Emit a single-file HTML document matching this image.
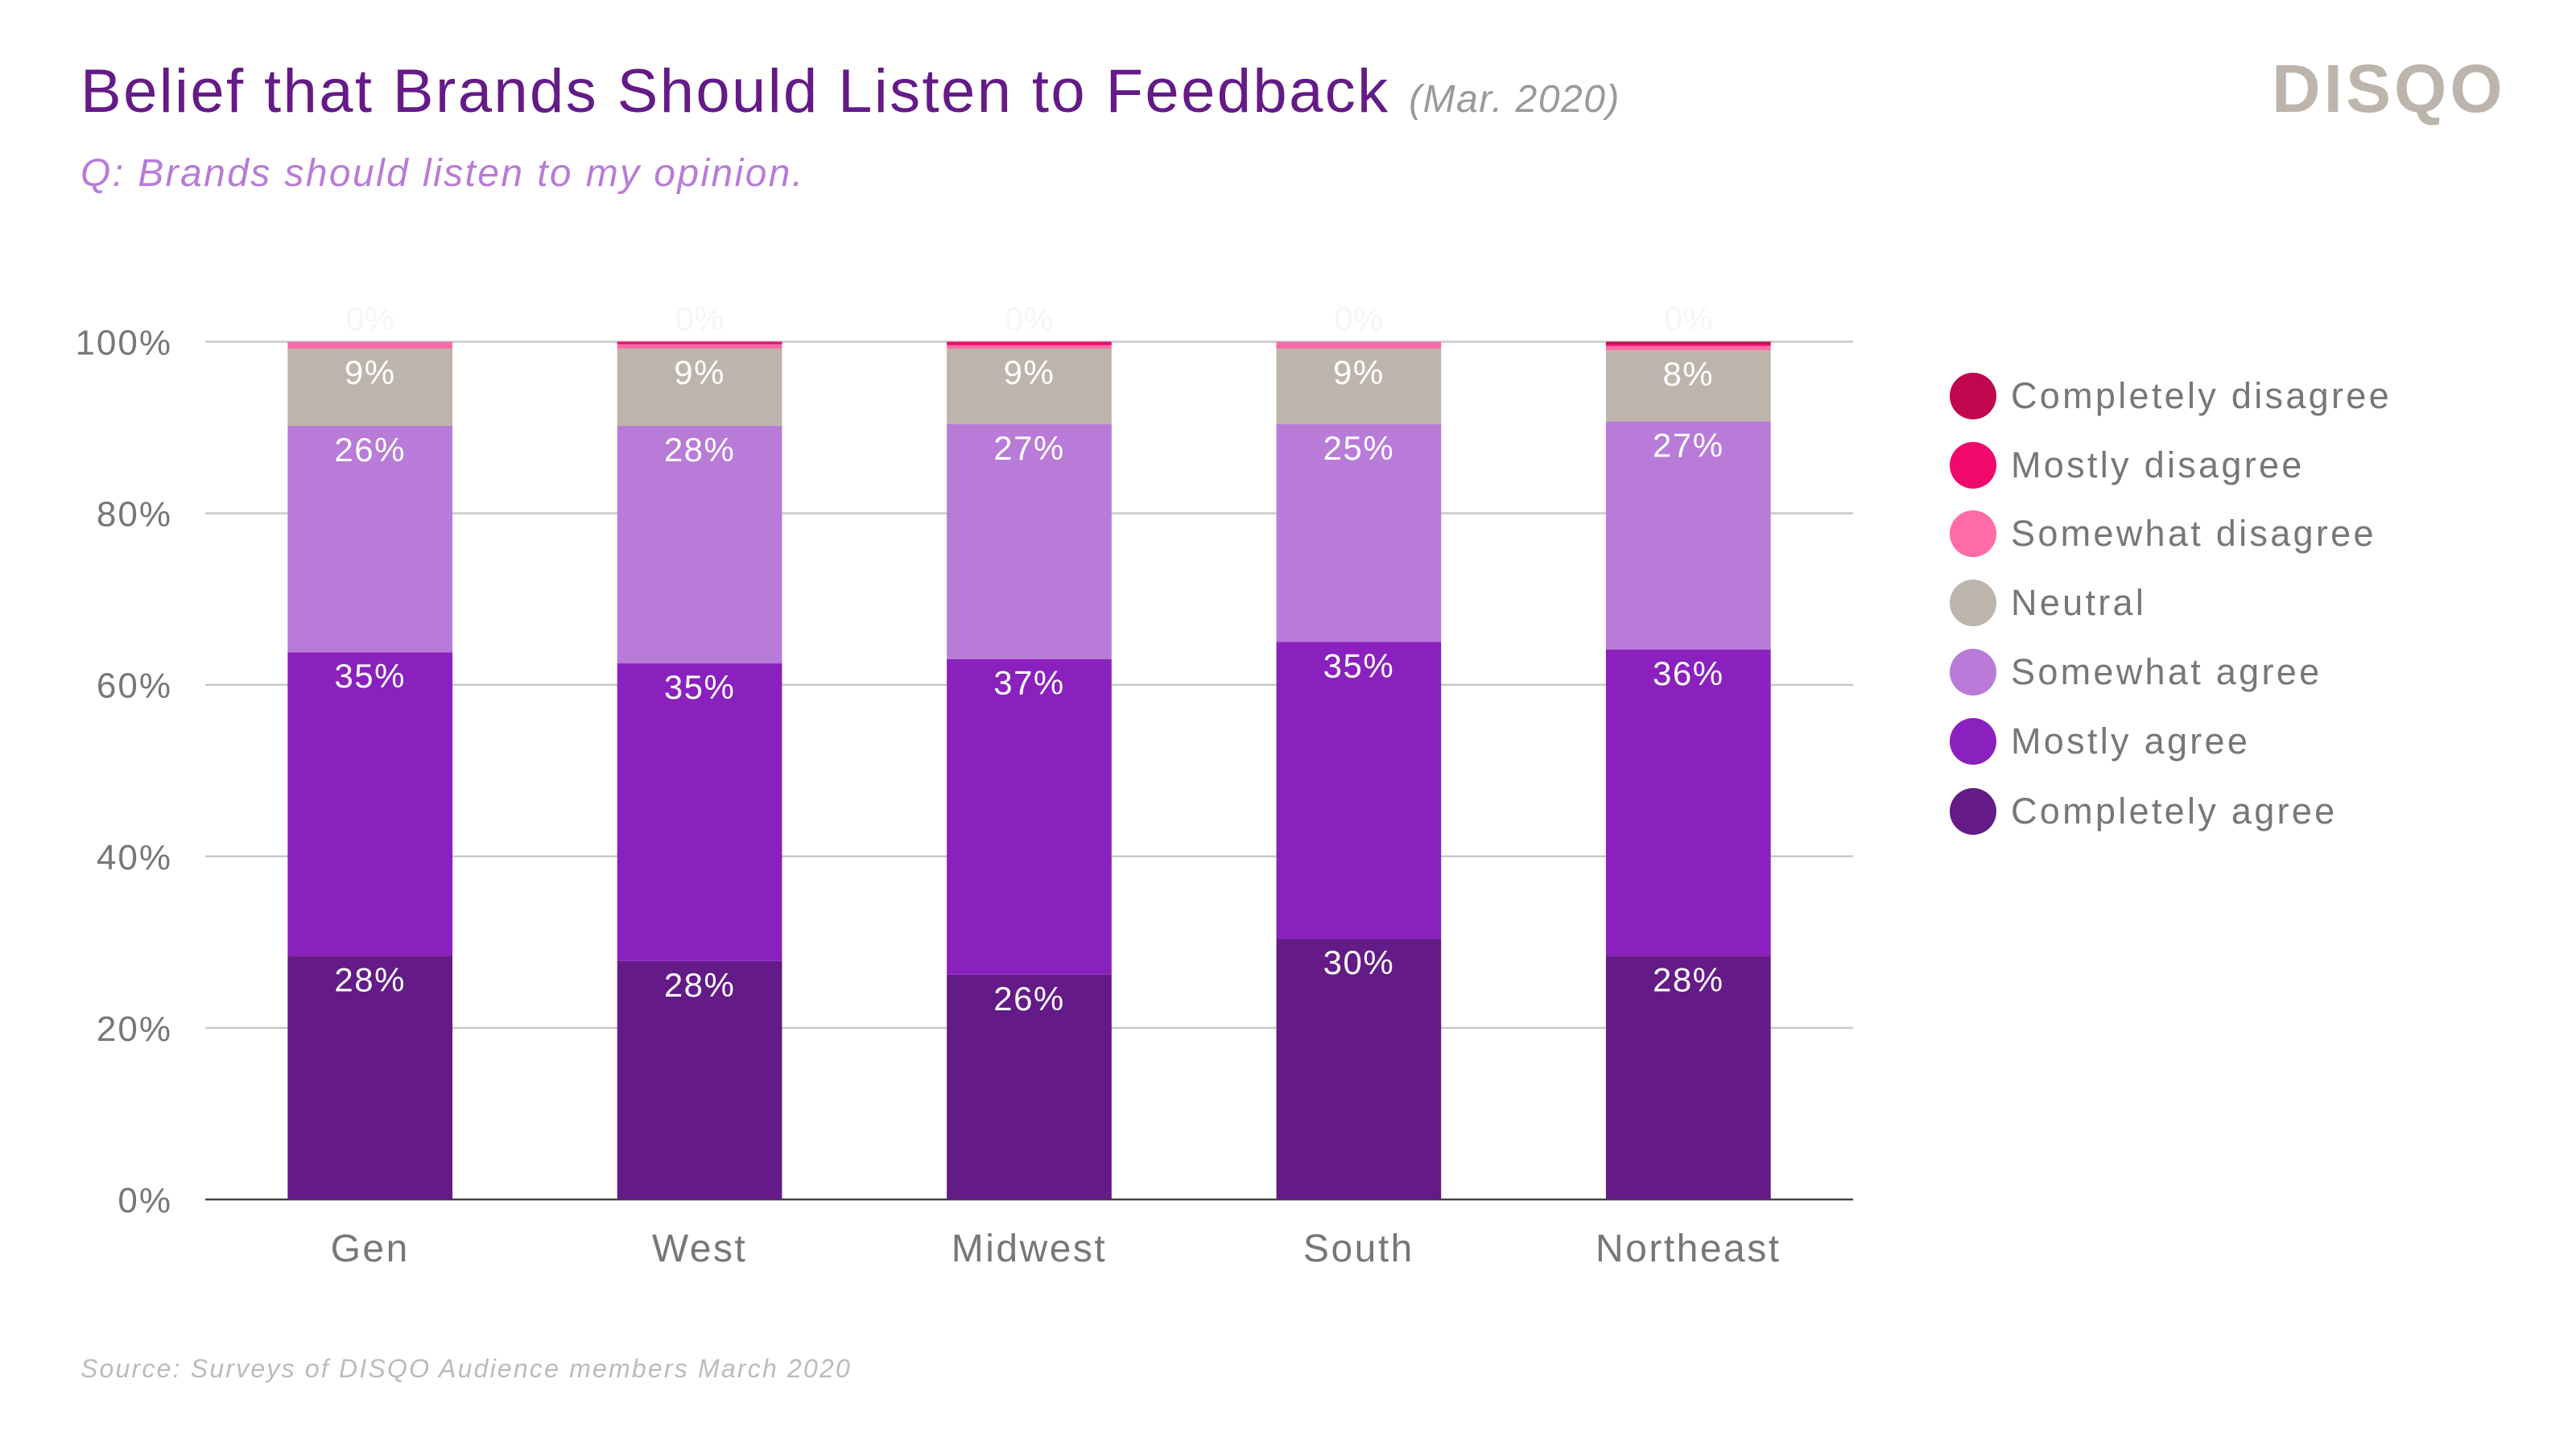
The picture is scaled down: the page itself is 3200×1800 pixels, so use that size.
<!DOCTYPE html>
<html><head><meta charset="utf-8"><style>
html,body{margin:0;padding:0;background:#fff;}
body{width:3200px;height:1800px;position:relative;overflow:hidden;font-family:"Liberation Sans",sans-serif;}
.t{position:absolute;white-space:nowrap;}
</style></head><body>
<div class="t" style="left:100px;top:70px;font-size:76px;letter-spacing:2.4px;color:#641a87;">Belief that Brands Should Listen to Feedback <span style="font-size:48px;letter-spacing:1.5px;color:#9a9a9a;font-style:italic;">(Mar. 2020)</span></div>
<div class="t" style="left:100px;top:188px;font-size:48px;letter-spacing:2.4px;color:#b87bd8;font-style:italic;">Q: Brands should listen to my opinion.</div>
<div class="t" style="left:2822px;top:68px;font-size:84px;line-height:84px;color:#bdb5ab;font-weight:bold;letter-spacing:4px;">DISQO</div>
<div class="t" style="left:100px;top:1682px;font-size:32px;letter-spacing:2.2px;color:#bbb;font-style:italic;">Source: Surveys of DISQO Audience members March 2020</div>
<svg id="chart" width="3200" height="1800" style="position:absolute;left:0;top:0;"></svg>
<script>
const categories=["Gen","West","Midwest","South","Northeast"];
const seriesNames=["Completely agree","Mostly agree","Somewhat agree","Neutral","Somewhat disagree","Mostly disagree","Completely disagree"];
const completelyAgree=[28.4,27.8,26.2,30.4,28.4];
const mostlyAgree=[35.4,34.7,36.8,34.6,35.7];
const somewhatAgree=[26.4,27.7,27.4,25.4,26.6];
const neutral=[9.0,9.0,8.8,8.8,8.3];
const somewhatDisagree=[0.8,0.5,0.4,0.8,0.5];
const mostlyDisagree=[0,0.3,0.4,0,0.2];
const completelyDisagree=[0,0,0,0,0.3];
const yTicks=[0,20,40,60,80,100];
const colors=["#641a87","#8a20bd","#b87bd8","#bdb5ab","#ff6ba6","#f0096b","#c0074d"];
const series=[completelyAgree,mostlyAgree,somewhatAgree,neutral,somewhatDisagree,mostlyDisagree,completelyDisagree];
const svg=document.getElementById('chart');
const NS="http://www.w3.org/2000/svg";
const L=255,R=2302,T=424.5,B=1490;
const band=(R-L)/categories.length, bw=band*0.5;
const y=v=>B-(v/100)*(B-T);
const xc=i=>L+band*(i+0.5);
function mk(tag,attrs,txt){const e=document.createElementNS(NS,tag);for(const k in attrs)e.setAttribute(k,attrs[k]);if(txt!==undefined)e.textContent=txt;svg.appendChild(e);return e;}
yTicks.forEach(t=>{
  const g=mk('line',{x1:L,x2:R,y1:y(t),y2:y(t),stroke:t===0?'#444':'#c8c8c8','stroke-width':2.5});
  
  
  const tx=mk('text',{x:214,y:y(t)+16,'text-anchor':'end','font-size':44,'letter-spacing':2,fill:'#777','font-family':'Liberation Sans, sans-serif'},t+'%');
  
  
});
categories.forEach((c,i)=>{
  let cum=0;
  series.forEach((s,k)=>{
    const v=s[i];const y0=y(cum),y1=y(cum+v);cum+=v;
    if(v>0){
      const r=mk('rect',{x:xc(i)-bw/2,y:y1,width:bw,height:y0-y1,fill:colors[k]});
      
      
    }
    if(k<4){
      const lb=mk('text',{x:xc(i),y:y1+44,'text-anchor':'middle','font-size':42,'letter-spacing':1.5,fill:'#fff','font-family':'Liberation Sans, sans-serif'},Math.round(v)+'%');
      
      
    }
  });
  const zl=mk('text',{x:xc(i),y:y(100)-14,'text-anchor':'middle','font-size':42,fill:'#f6f6f6','font-family':'Liberation Sans, sans-serif'},'0%');
  
  
  const cl=mk('text',{x:xc(i),y:1567,'text-anchor':'middle','font-size':48,'letter-spacing':2.5,fill:'#777','font-family':'Liberation Sans, sans-serif'},c);
  
  
});
const legY=[492,578,663,749,835,921,1008];
for(let j=0;j<7;j++){
  const k=6-j;
  const ci=mk('circle',{cx:2451,cy:legY[j],r:29,fill:colors[k]});
  
  
  const lt=mk('text',{x:2498,y:legY[j]+15,'font-size':45,'letter-spacing':3.3,fill:'#777','font-family':'Liberation Sans, sans-serif'},seriesNames[k]);
  
  
}
</script>
</body></html>
